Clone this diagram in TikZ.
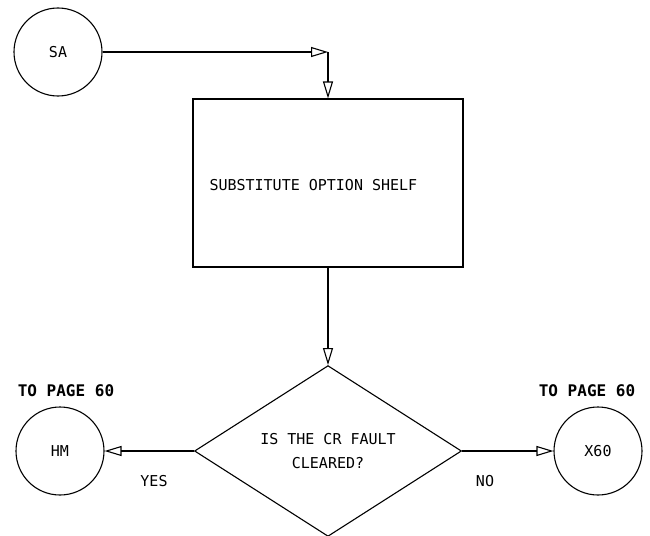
\documentclass[tikz,border=0pt]{standalone}
\usepackage{fontspec}
\setmonofont{DejaVu Sans Mono}
\usetikzlibrary{arrows.meta,shapes.geometric}
\tikzset{
  every node/.style={font=\ttfamily\fontsize{15}{24}\selectfont},
  conn/.style={draw, line width=1.1pt, -{Triangle[open,length=17pt,width=10pt,line width=1.1pt]}},
  term/.style={draw, circle, line width=1.1pt, minimum size=88pt, inner sep=0pt},
  procbox/.style={draw, rectangle, line width=1.1pt, minimum width=270pt, minimum height=168pt, inner sep=0pt},
  decis/.style={draw, diamond, line width=1.1pt, minimum width=267pt, minimum height=162pt, inner sep=0pt, align=center},
  pagelbl/.style={font=\ttfamily\bfseries\fontsize{16}{18}\selectfont}
}
\begin{document}
\begin{tikzpicture}[x=1pt,y=-1pt]
\useasboundingbox (0,0) rectangle (650,535);
\node[term] (sa) at (58,52) {SA};
\node[procbox] (box) at (328,183) {};
\node[anchor=west] (boxtxt) at (206,185) {SUBSTITUTE OPTION SHELF};
\node[decis] (dec) at (328,451) {IS THE CR FAULT\\CLEARED?};
\node[term] (hm) at (60,451) {HM};
\node[term] (x60) at (598,451) {X60};
\node[pagelbl] (tp1) at (66,391) {TO PAGE 60};
\node[pagelbl] (tp2) at (587,391) {TO PAGE 60};
\node (yes) at (154,481) {YES};
\node (no) at (485,481) {NO};
\coordinate (c1) at (328,52);
\draw[conn] (sa.east) -- (c1);
\draw[conn] (c1) -- (box.north);
\draw[conn] (box.south) -- (dec.north);
\draw[conn] (dec.west) -- (hm.east);
\draw[conn] (dec.east) -- (x60.west);
\end{tikzpicture}
\end{document}
